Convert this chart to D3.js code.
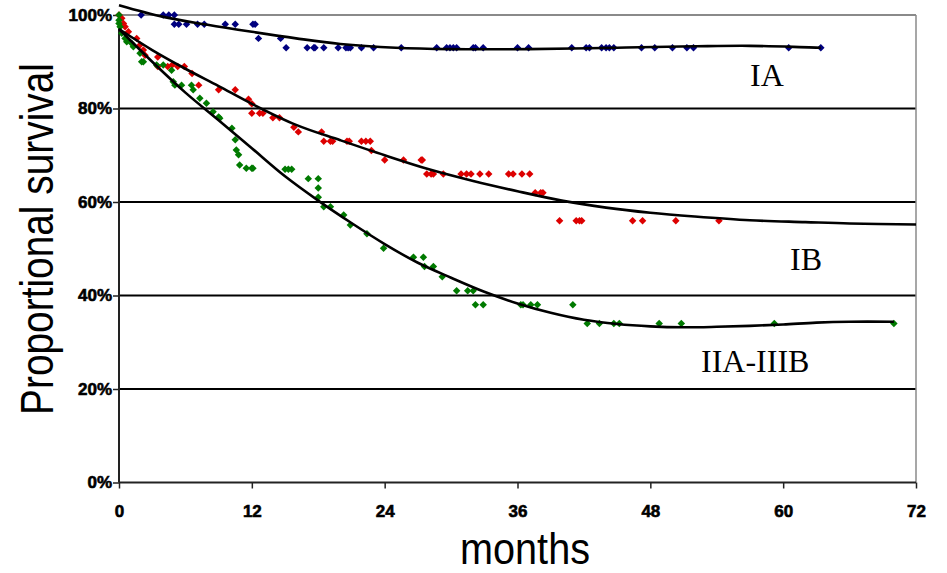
<!DOCTYPE html>
<html>
<head>
<meta charset="utf-8">
<script src="https://cdn.jsdelivr.net/npm/d3@7"></script>
<style>
  html, body { margin: 0; padding: 0; background: #fff; }
  svg { display: block; }
</style>
</head>
<body>
<svg id="chart" width="947" height="573"></svg>
<script>
// ---- data (months, percent surviving) ----
const xTicks = [0, 12, 24, 36, 48, 60, 72];
const yTicks = [0, 20, 40, 60, 80, 100];

const iaPoints = [
  [2.0,100],[4.0,100],[4.5,100],[5.0,100],
  [5.0,98],[5.4,98],[6.1,98],[7.1,98],[7.7,98],[9.6,98],[10.5,98],[12.1,98],[12.3,98],
  [12.6,95],[14.6,95],
  [15.1,93],[17.0,93],[17.6,93],[17.7,93],[18.5,93],[19.8,93],[20.5,93],[20.7,93],[20.9,93],
  [21.9,93],[23.0,93],[25.5,93],[28.7,93],[29.6,93],[29.9,93],[30.2,93],[30.5,93],[32.0,93],
  [32.2,93],[32.9,93],[36.0,93],[37.0,93],[40.9,93],[42.2,93],[42.5,93],[43.6,93],[44.0,93],
  [44.3,93],[44.7,93],[47.2,93],[48.4,93],[50.0,93],[51.3,93],[51.9,93],[60.5,93],[63.4,93]
];

const ibPoints = [
  [0,100],[0.25,99.3],[0.4,98.2],[0.55,97.5],[0.85,96.4],[1.6,95],[1.9,93.6],[2.2,92.5],[2.35,91.4],
  [3.5,91],[3.5,89],[4.4,89],[4.8,89.3],[5.3,89],[5.9,89],[6.6,87.5],[7.2,85],[9.0,84],[10.5,84],
  [11.7,82],[12.0,81],[12.0,79],[12.7,79],[13.0,79],[13.9,78],[14.5,78],[15.8,76],[16.2,75],
  [18.3,75],[18.5,73],[19.1,73],[19.3,73],[20.6,73],[20.8,73],[21.9,73],[22.3,73],[22.7,73],
  [22.8,71],[24.0,69],[25.7,69],[27.3,69],[27.4,69],[27.8,66],[28.2,66],[28.4,66],[29.3,66],
  [30.9,66],[31.4,66],[31.8,66],[32.6,66],[33.4,66],[35.2,66],[35.6,66],[36.4,66],[37.1,66],
  [37.6,62],[38.1,62],[38.3,62],[39.8,56],[41.3,56],[41.6,56],[41.8,56],[46.4,56],[47.3,56],
  [50.3,56],[54.2,56]
];

const iiaPoints = [
  [0,100],[0,98.9],[0,98.2],[0.1,97.5],[0.25,96.1],[0.55,95],[0.7,94.3],[1.15,93.9],[1.3,93.2],
  [1.9,91.8],[2.05,90],[2.2,90],[3.4,89.3],[4.0,89.3],[4.75,88.2],[4.9,85.7],[5.05,85],[5.65,85],
  [6.55,85],[6.7,84],[7.3,82.2],[7.9,81.1],[8.5,79.3],[9.0,78.2],[9.1,77.9],[10.2,75.8],[10.5,73.3],
  [10.6,71.1],[10.8,70.1],[10.9,67.9],[11.5,67.2],[12.0,67.2],[12.1,67.2],[15.0,67],[15.3,67],
  [15.6,67],[17.1,65],[18.0,65],[18.0,63],[18.0,61],[18.5,59],[19.1,59],[20.3,57.2],[20.9,55.1],
  [22.4,53.2],[23.9,50.1],[26.6,48.2],[27.5,48.2],[27.6,46.2],[28.4,46.2],[29.2,44],[30.5,41],
  [31.5,41],[32.0,41],[32.2,38],[32.9,38],[36.3,38],[36.5,38],[37.2,38],[37.8,38],[41.0,38],
  [42.3,34],[43.4,34],[44.7,34],[45.2,34],[48.8,34],[50.8,34],[59.2,34],[70.0,34]
];

const iaTrend = [
  [0,102.1],[4,99.6],[8,97.9],[12,96.4],[16,95],[20,93.8],[25,93.0],[30,92.7],[37,92.7],
  [45,93.0],[52,93.3],[57,93.4],[63.4,93.0]
];
const ibTrend = [
  [0,97],[3,92.5],[6,88.5],[9,84.8],[12,81],[16,76.5],[20,73.2],[24,70],[28,67],[32,64.5],
  [36,62.3],[40,60.3],[44,58.8],[48,57.7],[52,56.9],[57,56.1],[62,55.7],[66,55.4],[72,55.2]
];
const iiaTrend = [
  [0,97],[3,90],[6,83.4],[9,77.5],[12,71.5],[15,65.5],[18,60.3],[21,55.5],[24,51],[27,47],
  [30,43.8],[33,40.8],[36,38.3],[39,36.3],[42,34.8],[45,33.9],[48,33.4],[51,33.2],[54,33.3],
  [57,33.5],[60,33.8],[63,34.2],[66,34.4],[70,34.4]
];

const seriesNames = ["IA", "IB", "IIA-IIIB"];

// ---- layout ----
const svg = d3.select("#chart");
const margin = { left: 119, right: 31, top: 15, bottom: 90.5 };
const W = 947, H = 573;
const x = d3.scaleLinear().domain([0, 72]).range([margin.left, W - margin.right]);
const y = d3.scaleLinear().domain([0, 100]).range([H - margin.bottom, margin.top]);

// gridlines (20..80 black)
svg.append("g").selectAll("line")
  .data(yTicks.filter(t => t > 0 && t < 100))
  .join("line")
  .attr("x1", x(0)).attr("x2", x(72))
  .attr("y1", d => y(d)).attr("y2", d => y(d))
  .attr("stroke", "#000").attr("stroke-width", 1.8);

// plot border top & right (grey)
svg.append("line").attr("x1", x(0)).attr("x2", x(72)).attr("y1", y(100)).attr("y2", y(100))
  .attr("stroke", "#8a8a8a").attr("stroke-width", 2);
svg.append("line").attr("x1", x(72)).attr("x2", x(72)).attr("y1", y(100)).attr("y2", y(0))
  .attr("stroke", "#8a8a8a").attr("stroke-width", 1.5);

// axes
const xAxis = d3.axisBottom(x).tickValues(xTicks).tickSize(6).tickPadding(16).tickFormat(d3.format("d"));
const yAxis = d3.axisLeft(y).tickValues(yTicks).tickSize(6).tickPadding(1).tickFormat(d => d + "%");

const gx = svg.append("g").attr("transform", `translate(0,${y(0)})`).call(xAxis);
const gy = svg.append("g").attr("transform", `translate(${x(0)},0)`).call(yAxis);
[gx, gy].forEach(g => {
  g.select(".domain").attr("stroke", "#222").attr("stroke-width", 2);
  g.selectAll(".tick line").attr("stroke", "#222").attr("stroke-width", 1.5);
  g.selectAll(".tick text")
    .attr("fill", "#000")
    .attr("stroke", "#000")
    .attr("stroke-width", 0.6)
    .style("font-family", "'Liberation Sans', Arial, sans-serif")
    .style("font-weight", "bold")
    .style("font-size", "17px");
});
gx.select(".domain").attr("d", `M${x(0)},0H${x(72)}`);
gy.select(".domain").attr("d", `M0,${y(0)}V${y(100)}`);

// points
const diamond = d3.symbol().type(d3.symbolSquare).size(28)();
function drawPoints(data, color) {
  svg.append("g").selectAll("path")
    .data(data)
    .join("path")
    .attr("d", diamond)
    .attr("transform", d => `translate(${x(d[0])},${y(d[1])}) rotate(45)`)
    .attr("fill", color);
}
drawPoints(iaPoints, "#00007f");
drawPoints(ibPoints, "#dd0000");
drawPoints(iiaPoints, "#007a00");

// trend lines
const line = d3.line().x(d => x(d[0])).y(d => y(d[1])).curve(d3.curveCatmullRom);
[iaTrend, ibTrend, iiaTrend].forEach(t => {
  svg.append("path").attr("d", line(t)).attr("fill", "none")
    .attr("stroke", "#000").attr("stroke-width", 2.6);
});

// series labels
const labelPos = [[750, 86], [790, 270], [701, 372]];
svg.append("g").selectAll("text")
  .data(seriesNames)
  .join("text")
  .attr("x", (d, i) => labelPos[i][0])
  .attr("y", (d, i) => labelPos[i][1])
  .text(d => d)
  .style("font-family", "'Liberation Serif', 'Times New Roman', serif")
  .style("font-size", "32px")
  .attr("fill", "#000");

// axis titles (condensed horizontally to mimic a narrow face)
function narrowText(sel, targetLen) {
  const natural = sel.node().getComputedTextLength();
  return natural > 0 ? targetLen / natural : 1;
}

const yTitle = svg.append("text")
  .attr("text-anchor", "middle")
  .style("font-family", "'Liberation Sans Narrow', 'Arial Narrow', 'Liberation Sans', sans-serif")
  .style("font-size", "47px")
  .attr("fill", "#000")
  .text("Proportional survival");
const sy = narrowText(yTitle, 352);
yTitle.attr("transform", `translate(53,239) rotate(-90) scale(${sy},1)`);

const xTitle = svg.append("text")
  .attr("text-anchor", "middle")
  .style("font-family", "'Liberation Sans Narrow', 'Arial Narrow', 'Liberation Sans', sans-serif")
  .style("font-size", "45px")
  .attr("fill", "#000")
  .text("months");
const sx = narrowText(xTitle, 130);
xTitle.attr("transform", `translate(525,564) scale(${sx},1)`);
</script>
</body>
</html>
